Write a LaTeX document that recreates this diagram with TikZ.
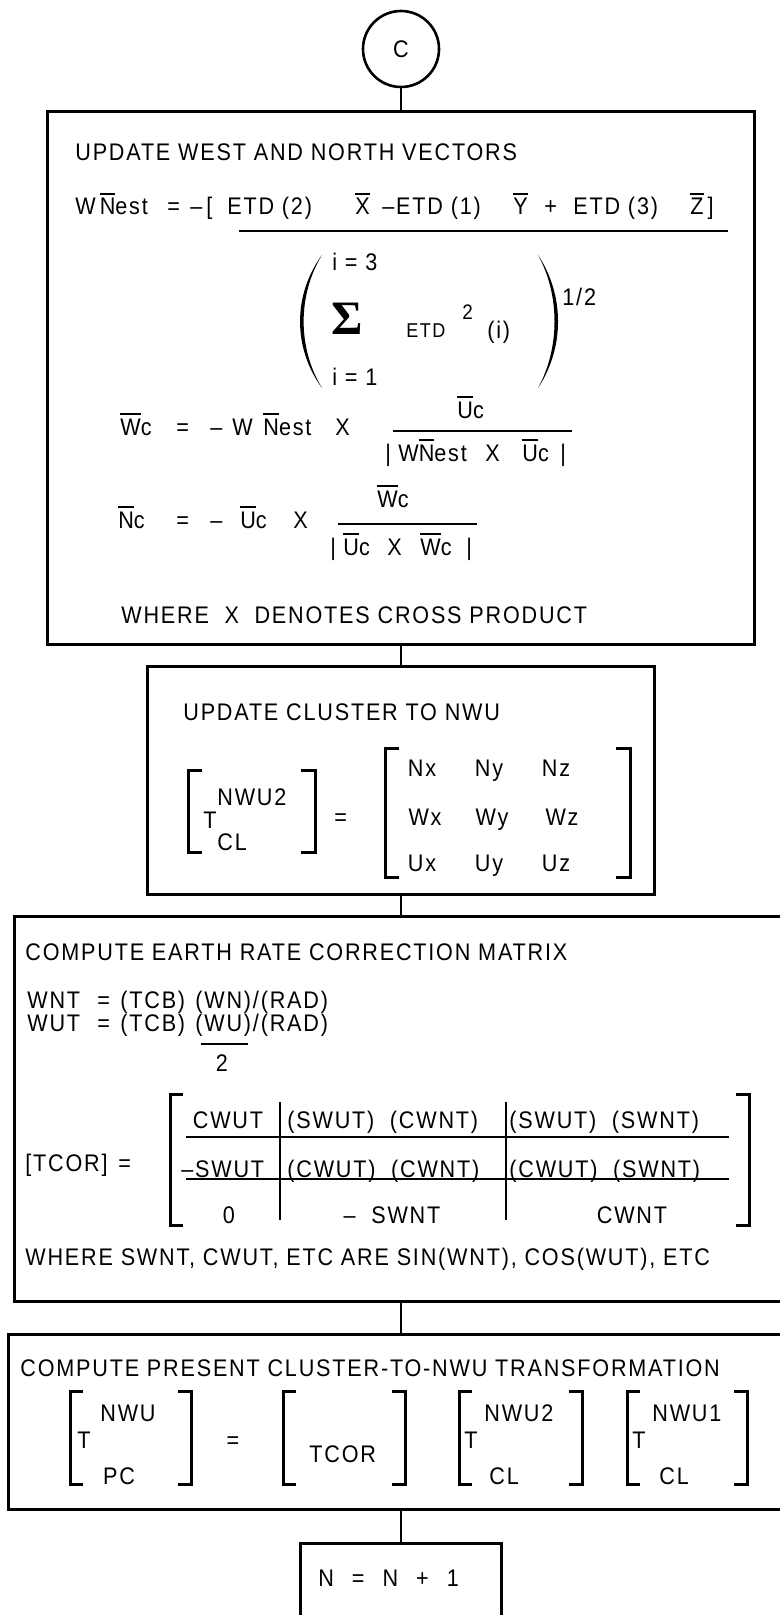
\documentclass[tikz,border=0pt]{standalone}
\usepackage{fontspec}
\setmainfont{Liberation Sans}[FakeStretch=0.9,LetterSpace=7.5]
\newfontfamily\sigmafont{Liberation Serif}
\usetikzlibrary{positioning}
\newcommand\ob[1]{\vbox{\hrule height 1pt\kern 1.6pt\hbox{#1}}}

\begin{document}
\begin{tikzpicture}[
  x=0.5pt, y=-0.5pt,
  every node/.style={font=\fontsize{12}{14}\selectfont, inner sep=0pt},
  box/.style={draw, line width=1.3pt, anchor=north west},
  txt/.style={anchor=base west},
  mid/.style={anchor=base},
  small/.style={font=\fontsize{10}{12}\selectfont},
  link/.style={line width=1.3pt},
  brak/.style={line width=1.5pt},
  bar/.style={line width=1.4pt}
]
  \useasboundingbox (0,0) rectangle (780,1615);
  \clip (0,0) rectangle (780,1615);

  % boxes
  \node[circle, draw, line width=1.3pt, minimum size=38pt] (conn) at (401,49) {C};
  \node[box, minimum width=353.5pt, minimum height=266.5pt] (vectors) at (46,110) {};
  \node[box, minimum width=253.5pt, minimum height=114pt] (cluster) at (146,665) {};
  \node[box, minimum width=400pt, minimum height=192.5pt] (earth) at (13,915) {};
  \node[box, minimum width=400pt, minimum height=87.5pt] (present) at (7,1333) {};
  \node[box, minimum width=100.5pt, minimum height=60pt] (incr) at (299,1542) {};

  \draw[link] (conn.south) -- (conn.south |- vectors.north);
  \draw[link] (conn |- vectors.south) -- (conn |- cluster.north);
  \draw[link] (conn |- cluster.south) -- (conn |- earth.north);
  \draw[link] (conn |- earth.south) -- (conn |- present.north);
  \draw[link] (conn |- present.south) -- (conn |- incr.north);

  % west and north vectors
  \node[txt] (title1) at (75,161) {UPDATE WEST AND NORTH VECTORS};
  \node[txt] (wn) at (75,215) {W\,\ob{N}est};
  \node[txt] (wneq) at (167,215) {=};
  \node[txt] (wnbr) at (190,215) {–\,[};
  \node[txt] (wna) at (227,215) {ETD (2)};
  \node[txt] (wnx) at (355,215) {\ob{X}};
  \node[txt] (wnb) at (382,215) {–ETD (1)};
  \node[txt] (wny) at (513,215) {\ob{Y}};
  \node[txt] (wnp) at (544,215) {+};
  \node[txt] (wnc) at (573,215) {ETD (3)};
  \node[txt] (wnz) at (690,215) {\ob{Z}\,]};
  \draw[bar] (239,231) -- (728,231);

  \node[txt] (itop) at (332,271) {i = 3};
  \node[font={\sigmafont\bfseries\fontsize{24}{24}\selectfont}] (sigma) at (347,319) {Σ};
  \node[txt, small] (etd) at (406,337) {ETD};
  \node[txt, font=\fontsize{10.5}{12}\selectfont] (sq) at (462,320) {2};
  \node[txt] (iarg) at (487,338) {(i)};
  \node[txt] (half) at (562,306) {1/2};
  \node[txt] (ibot) at (332,386) {i = 1};
  \fill (322,255) .. controls (292.7,295) and (292.7,348) .. (322,388)
        .. controls (297.5,348) and (297.5,295) .. (322,255) -- cycle;
  \fill (538,255) .. controls (564.7,295) and (564.7,348) .. (538,388)
        .. controls (560,348) and (560,295) .. (538,255) -- cycle;

  \node[txt] (wc) at (120,435) {\ob{W}c};
  \node[txt] (wceq) at (176,435) {=};
  \node[txt] (wcm) at (210,435) {–};
  \node[txt] (wcw) at (232,435) {W};
  \node[txt] (wcn) at (263,435) {\ob{N}est};
  \node[txt] (wcx) at (335,435) {X};
  \node[txt] (wcnum) at (457,418) {\ob{U}c};
  \draw[bar] (393,431) -- (572,431);
  \node[txt] (wcd1) at (385,461) {|};
  \node[txt] (wcd2) at (398,461) {W\ob{N}est};
  \node[txt] (wcd3) at (485,461) {X};
  \node[txt] (wcd4) at (522,461) {\ob{U}c};
  \node[txt] (wcd5) at (560,461) {|};

  \node[txt] (nc) at (118,528) {\ob{N}c};
  \node[txt] (nceq) at (176,528) {=};
  \node[txt] (ncm) at (210,528) {–};
  \node[txt] (ncu) at (240,528) {\ob{U}c};
  \node[txt] (ncx) at (293,528) {X};
  \node[txt] (ncnum) at (377,507) {\ob{W}c};
  \draw[bar] (338,524) -- (477,524);
  \node[txt] (ncd1) at (330,555) {|};
  \node[txt] (ncd2) at (343,555) {\ob{U}c};
  \node[txt] (ncd3) at (387,555) {X};
  \node[txt] (ncd4) at (420,555) {\ob{W}c};
  \node[txt] (ncd5) at (466,555) {|};

  \node[txt] (cross) at (121,623) {WHERE\ \ X\ \ DENOTES CROSS PRODUCT};

  % cluster to NWU
  \node[txt] (title2) at (183,720) {UPDATE CLUSTER TO NWU};
  \draw[brak] (202,770) -- (188,770) -- (188,852) -- (202,852);
  \draw[brak] (301,770) -- (315,770) -- (315,852) -- (301,852);
  \node[txt] (tcl) at (203,828) {T};
  \node[txt] (tclsup) at (217,805) {NWU2};
  \node[txt] (tclsub) at (217,850) {CL};
  \node[txt] (clueq) at (334,825) {=};
  \draw[brak] (399,748) -- (385,748) -- (385,877) -- (399,877);
  \draw[brak] (616,748) -- (630,748) -- (630,877) -- (616,877);
  \node[mid] (nx) at (422,776) {Nx};
  \node[mid] (ny) at (489,776) {Ny};
  \node[mid] (nz) at (556,776) {Nz};
  \node[mid] (wx) at (425,825) {Wx};
  \node[mid] (wy) at (492,825) {Wy};
  \node[mid] (wz) at (562,825) {Wz};
  \node[mid] (ux) at (422,871) {Ux};
  \node[mid] (uy) at (489,871) {Uy};
  \node[mid] (uz) at (556,871) {Uz};

  % earth rate correction
  \node[txt] (title3) at (25,960) {COMPUTE EARTH RATE CORRECTION MATRIX};
  \node[txt] (wnt) at (27,1008) {WNT};
  \node[txt] (wnteq) at (97,1008) {=};
  \node[txt] (wnttcb) at (120,1008) {(TCB)};
  \node[txt] (wntr) at (195,1008) {(WN)/(RAD)};
  \node[txt] (wut) at (27,1031) {WUT};
  \node[txt] (wuteq) at (97,1031) {=};
  \node[txt] (wuttcb) at (120,1031) {(TCB)};
  \node[txt] (wutr) at (195,1031) {(WU)/(RAD)};
  \draw[bar] (201,1044) -- (248,1044);
  \node[mid] (two) at (222,1071) {2};

  \node[txt] (tcor) at (25,1171) {[TCOR]};
  \node[txt] (tcoreq) at (118,1171) {=};
  \draw[brak] (183,1094) -- (170,1094) -- (170,1225) -- (183,1225);
  \draw[brak] (736,1094) -- (749,1094) -- (749,1225) -- (736,1225);
  \draw[bar] (186,1137) -- (729,1137);
  \draw[bar] (186,1179) -- (729,1179);
  \draw[bar] (280,1102) -- (280,1220);
  \draw[bar] (506,1102) -- (506,1220);
  \node[mid] (c11) at (228,1128) {CWUT};
  \node[txt] (c12) at (287,1128) {(SWUT)\ \ (CWNT)};
  \node[txt] (c13) at (509,1128) {(SWUT)\ \ (SWNT)};
  \node[txt] (c21) at (181,1177) {–SWUT};
  \node[txt] (c22) at (287,1177) {(CWUT)\ \ (CWNT)};
  \node[txt] (c23) at (509,1177) {(CWUT)\ \ (SWNT)};
  \node[mid] (c31) at (229,1223) {0};
  \node[mid] (c32) at (392,1223) {–\ \ SWNT};
  \node[mid] (c33) at (632,1223) {CWNT};
  \node[txt] (where) at (25,1265) {WHERE SWNT, CWUT, ETC ARE SIN(WNT), COS(WUT), ETC};

  % present cluster-to-NWU
  \node[txt] (title4) at (20,1376) {COMPUTE PRESENT CLUSTER-TO-NWU TRANSFORMATION};
  \foreach \l/\r in {70/191, 283/405, 459/582, 627/747}{
    \draw[brak] ({\l+13},1391) -- (\l,1391) -- (\l,1484) -- ({\l+13},1484);
    \draw[brak] ({\r-13},1391) -- (\r,1391) -- (\r,1484) -- ({\r-13},1484);
  }
  \node[txt] (tpc) at (77,1448) {T};
  \node[mid] (tpcsup) at (128,1421) {NWU};
  \node[mid] (tpcsub) at (119,1484) {PC};
  \node[mid] (preseq) at (233,1448) {=};
  \node[txt] (tcor2) at (309,1462) {TCOR};
  \node[txt] (tcl2) at (464,1448) {T};
  \node[txt] (tcl2sup) at (484,1421) {NWU2};
  \node[txt] (tcl2sub) at (489,1484) {CL};
  \node[txt] (tcl1) at (632,1448) {T};
  \node[txt] (tcl1sup) at (652,1421) {NWU1};
  \node[txt] (tcl1sub) at (659,1484) {CL};

  % counter
  \node[txt] (count) at (318,1586) {N\hspace{9pt}=\hspace{9pt}N\hspace{9pt}+\hspace{9pt}1};
\end{tikzpicture}
\end{document}
